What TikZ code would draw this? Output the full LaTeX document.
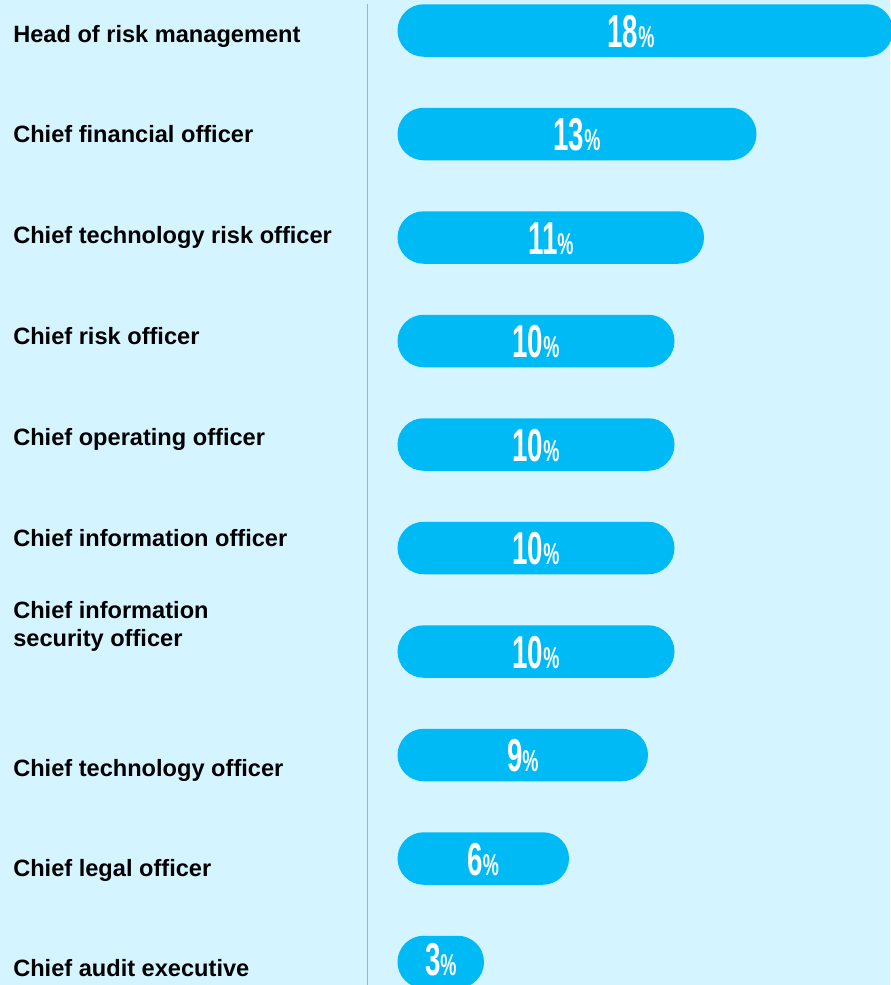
\documentclass[tikz,border=0pt]{standalone}
\usepackage{fontspec}
\setmainfont{Liberation Sans}
\newfontfamily\numfont[FakeStretch=0.6]{Liberation Sans}
\usepackage{tikz}
\usepackage{color}

\definecolor{bgcyan}{RGB}{212,244,255}
\definecolor{barblue}{RGB}{0,186,245}
\definecolor{rulegray}{RGB}{175,175,175}

\newcommand{\pctnum}[1]{{\numfont\bfseries\fontsize{34.6}{34.6}\selectfont #1\fontsize{22.6}{22.6}\selectfont\%}}

\begin{document}
\begin{tikzpicture}[x=0.75pt,y=0.75pt,yscale=-1,xscale=1,
	pctbar/.style={fill=barblue, rounded corners=19.68pt},
	lbl/.style={anchor=base west, inner sep=0pt, font=\bfseries\fontsize{17.7}{21.2}\selectfont, align=left},
	pct/.style={anchor=base, inner sep=0pt, text=white}]
	%set diagram size: 890 x 985
	\useasboundingbox (0,0) rectangle (890,985);
	\fill [bgcyan] (0,0) rectangle (890,985);

	%Straight Lines: divider
	\draw [color=rulegray, line width=0.8pt] (367.5,4) -- (367.5,985);

	%Shape: Rounded Rect 18%
	\fill [pctbar] (397.5,4.25) rectangle (893,56.75);
	%Shape: Rounded Rect 13%
	\fill [pctbar] (397.5,107.75) rectangle (756.5,160.25);
	%Shape: Rounded Rect 11%
	\fill [pctbar] (397.5,211.25) rectangle (704,263.75);
	%Shape: Rounded Rect 10%
	\fill [pctbar] (397.5,314.75) rectangle (674.5,367.25);
	%Shape: Rounded Rect 10%
	\fill [pctbar] (397.5,418.25) rectangle (674.5,470.75);
	%Shape: Rounded Rect 10%
	\fill [pctbar] (397.5,521.75) rectangle (674.5,574.25);
	%Shape: Rounded Rect 10%
	\fill [pctbar] (397.5,625.25) rectangle (674.5,677.75);
	%Shape: Rounded Rect 9%
	\fill [pctbar] (397.5,728.75) rectangle (648,781.25);
	%Shape: Rounded Rect 6%
	\fill [pctbar] (397.5,832.25) rectangle (569,884.75);
	%Shape: Rounded Rect 3%
	\fill [pctbar] (397.5,935.75) rectangle (484,988.25);

	% Text Node
	\draw (631,47.3) node [pct] (p1) {\pctnum{18}};
	% Text Node
	\draw (577,150.5) node [pct] (p2) {\pctnum{13}};
	% Text Node
	\draw (550.8,254) node [pct] (p3) {\pctnum{11}};
	% Text Node
	\draw (536,357.5) node [pct] (p4) {\pctnum{10}};
	% Text Node
	\draw (536,461) node [pct] (p5) {\pctnum{10}};
	% Text Node
	\draw (536,564.5) node [pct] (p6) {\pctnum{10}};
	% Text Node
	\draw (536,668) node [pct] (p7) {\pctnum{10}};
	% Text Node
	\draw (522.8,771.5) node [pct] (p8) {\pctnum{9}};
	% Text Node
	\draw (483.3,875) node [pct] (p9) {\pctnum{6}};
	% Text Node
	\draw (440.8,975.5) node [pct] (p10) {\pctnum{3}};

	% Text Node
	\draw (13,42.3) node [lbl] (l1) {Head of risk management};
	% Text Node
	\draw (13,142.3) node [lbl] (l2) {Chief financial officer};
	% Text Node
	\draw (13,243.3) node [lbl] (l3) {Chief technology risk officer};
	% Text Node
	\draw (13,344) node [lbl] (l4) {Chief risk officer};
	% Text Node
	\draw (13,445) node [lbl] (l5) {Chief operating officer};
	% Text Node
	\draw (13,546) node [lbl] (l6) {Chief information officer};
	% Text Node
	\draw (13,646.7) node [lbl] (l7) {Chief information\\security officer};
	% Text Node
	\draw (13,776) node [lbl] (l8) {Chief technology officer};
	% Text Node
	\draw (13,876.7) node [lbl] (l9) {Chief legal officer};
	% Text Node
	\draw (13,976.7) node [lbl] (l10) {Chief audit executive};

\end{tikzpicture}
\end{document}
